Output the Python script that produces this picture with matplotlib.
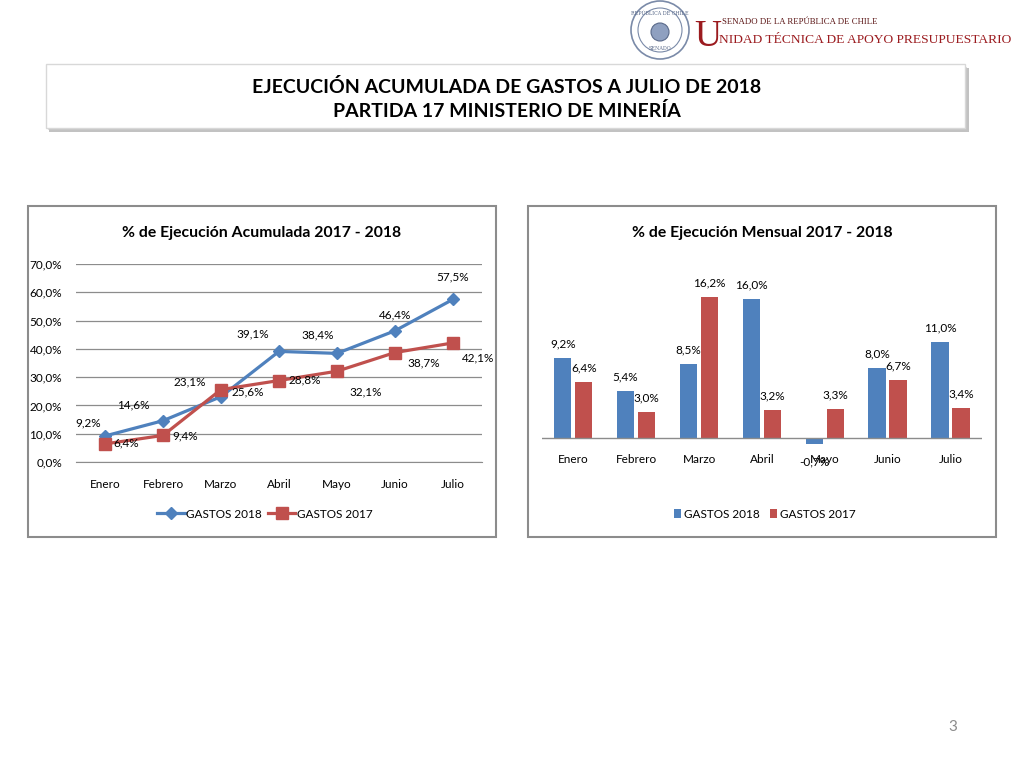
import matplotlib
matplotlib.use("Agg")
import matplotlib.pyplot as plt
from matplotlib.patches import Rectangle, Circle
import numpy as np

plt.rcParams['font.family'] = ['Lato', 'DejaVu Sans']

# ---------------- data ----------------
months = ["Enero", "Febrero", "Marzo", "Abril", "Mayo", "Junio", "Julio"]
acum_2018 = [9.2, 14.6, 23.1, 39.1, 38.4, 46.4, 57.5]
acum_2017 = [6.4, 9.4, 25.6, 28.8, 32.1, 38.7, 42.1]
mens_2018 = [9.2, 5.4, 8.5, 16.0, -0.7, 8.0, 11.0]
mens_2017 = [6.4, 3.0, 16.2, 3.2, 3.3, 6.7, 3.4]
yticks_acum = [0, 10, 20, 30, 40, 50, 60, 70]
series_names = ["GASTOS 2018", "GASTOS 2017"]

BLUE = "#4F81BD"
RED = "#C0504D"
W, H = 1024, 768


def fmt(v):
    return f"{v:.1f}".replace(".", ",") + "%"


def px(x0, y0, x1, y1):
    return [x0 / W, 1 - y1 / H, (x1 - x0) / W, (y1 - y0) / H]


fig = plt.figure(figsize=(10.24, 7.68), dpi=100)
fig.patch.set_facecolor("white")

ov = fig.add_axes([0, 0, 1, 1], zorder=0)
ov.set_xlim(0, W)
ov.set_ylim(H, 0)
ov.axis("off")

# header logo
ov.add_patch(Circle((660, 30), 29, fill=False, ec="#7a8aa8", lw=1.2))
ov.add_patch(Circle((660, 30), 22, fill=False, ec="#7a8aa8", lw=0.8))
ov.add_patch(Circle((660, 32), 9, fc="#8fa0c0", ec="#5a6a8a", lw=0.8))
ov.text(660, 13, "REPÚBLICA DE CHILE", ha="center", va="center", fontsize=3.5,
        color="#5a6a8a", family="DejaVu Serif")
ov.text(660, 49, "SENADO", ha="center", va="center", fontsize=3.5,
        color="#5a6a8a", family="DejaVu Serif")
ov.text(694, 46, "U", ha="left", va="baseline", fontsize=27, color="#9B1B1F",
        family="Liberation Serif")
ov.text(722, 24, "SENADO DE LA REPÚBLICA DE CHILE", ha="left", va="baseline",
        fontsize=6.3, color="#5a1414", family="Liberation Serif")
ov.text(719, 43, "NIDAD TÉCNICA DE APOYO PRESUPUESTARIO", ha="left", va="baseline",
        fontsize=9.7, color="#9B1B1F", family="Liberation Serif")

# title box with shadow
ov.add_patch(Rectangle((49, 68), 920, 64, fc="#9a9a9a", ec="none", alpha=0.6))
ov.add_patch(Rectangle((48, 67), 919, 63, fc="#c8c8c8", ec="none", alpha=0.6))
ov.add_patch(Rectangle((46, 64), 919, 64, fc="white", ec="#d8d8d8", lw=1))
ov.text(507, 87, "EJECUCIÓN ACUMULADA DE GASTOS A JULIO DE 2018", ha="center",
        va="center", fontsize=14, fontweight="bold", color="black")
ov.text(507, 111, "PARTIDA 17 MINISTERIO DE MINERÍA", ha="center",
        va="center", fontsize=14, fontweight="bold", color="black")

# chart frames
for x0 in (28, 528):
    ov.add_patch(Rectangle((x0, 206), 468, 331, fc="white", ec="#8c8c8c", lw=1.5))

TS = 11.3
LS = 8.5
ov.text(262, 233, "% de Ejecución Acumulada 2017 - 2018", ha="center", va="center",
        fontsize=TS, fontweight="bold", color="black")
ov.text(762, 233, "% de Ejecución Mensual 2017 - 2018", ha="center", va="center",
        fontsize=TS, fontweight="bold", color="black")

ov.text(953, 727, "3", ha="center", va="center", fontsize=11, color="#8c8c8c")

# ---------------- left: line chart ----------------
ax1 = fig.add_axes(px(76, 264, 482, 462), zorder=1)
ax1.patch.set_alpha(0)
x = np.arange(len(months))
ax1.plot(x, acum_2018, color=BLUE, lw=2.3, marker="D", ms=6.5, mfc=BLUE, mec=BLUE,
         label=series_names[0], zorder=3)
ax1.plot(x, acum_2017, color=RED, lw=2.3, marker="s", ms=8, mfc=RED, mec=RED,
         label=series_names[1], zorder=3)
ax1.set_xlim(-0.5, 6.5)
ax1.set_ylim(0, 70)
ax1.set_yticks(yticks_acum)
ax1.set_yticklabels([fmt(v) for v in yticks_acum])
ax1.set_xticks(x)
ax1.set_xticklabels(months)
ax1.grid(axis="y", color="#8c8c8c", lw=0.9)
ax1.set_axisbelow(True)
for s in ("top", "right", "left"):
    ax1.spines[s].set_visible(False)
ax1.spines["bottom"].set_color("#8c8c8c")
ax1.tick_params(axis="both", length=0, labelsize=LS, colors="black")
ax1.tick_params(axis="x", pad=12)
ax1.tick_params(axis="y", pad=10)

off18 = [(-17, 13), (-30, 16), (-31, 15), (-26, 17), (-19, 18), (0, 16), (0, 22)]
off17 = [(21, 1), (22, -1), (27, -2), (26, 1), (29, -21), (29, -10), (25, -15)]
for i in range(len(months)):
    ax1.annotate(fmt(acum_2018[i]), (x[i], acum_2018[i]), xytext=off18[i],
                 textcoords="offset pixels", ha="center", va="center", fontsize=LS)
    ax1.annotate(fmt(acum_2017[i]), (x[i], acum_2017[i]), xytext=off17[i],
                 textcoords="offset pixels", ha="center", va="center", fontsize=LS)

ax1.legend(loc="center", bbox_to_anchor=(265 / W, 1 - 514 / H),
           bbox_transform=fig.transFigure, ncol=2, frameon=False,
           fontsize=LS, handlelength=2.3, columnspacing=0.5, handletextpad=0.15)

# ---------------- right: bar chart ----------------
ax2 = fig.add_axes(px(542, 260, 982, 450), zorder=1)
ax2.patch.set_alpha(0)
bw = 0.275
ax2.bar(x - 0.17, mens_2018, width=bw, color=BLUE, label=series_names[0], zorder=2)
ax2.bar(x + 0.165, mens_2017, width=bw, color=RED, label=series_names[1], zorder=2)
ax2.axhline(0, color="#8c8c8c", lw=1, zorder=3)
ax2.set_xlim(-0.5, 6.5)
ax2.set_ylim(-(450 - 438) / 8.7, (438 - 260) / 8.7)
ax2.set_yticks([])
ax2.set_xticks(x)
ax2.set_xticklabels(months)
for s in ax2.spines.values():
    s.set_visible(False)
ax2.tick_params(axis="x", length=0, labelsize=LS, pad=3)

for i in range(len(months)):
    v = mens_2018[i]
    dy = 14 if v >= 0 else -18
    ax2.annotate(fmt(v), (x[i] - 0.17, v), xytext=(0, dy), textcoords="offset pixels",
                 ha="center", va="center", fontsize=LS)
    v = mens_2017[i]
    ax2.annotate(fmt(v), (x[i] + 0.165, v), xytext=(0, 14), textcoords="offset pixels",
                 ha="center", va="center", fontsize=LS)

ax2.legend(loc="center", bbox_to_anchor=(765 / W, 1 - 514 / H),
           bbox_transform=fig.transFigure, ncol=2, frameon=False,
           fontsize=LS, handlelength=0.6, handleheight=0.8, columnspacing=0.9,
           handletextpad=0.25)

fig.savefig("out.png", dpi=100, facecolor="white")
